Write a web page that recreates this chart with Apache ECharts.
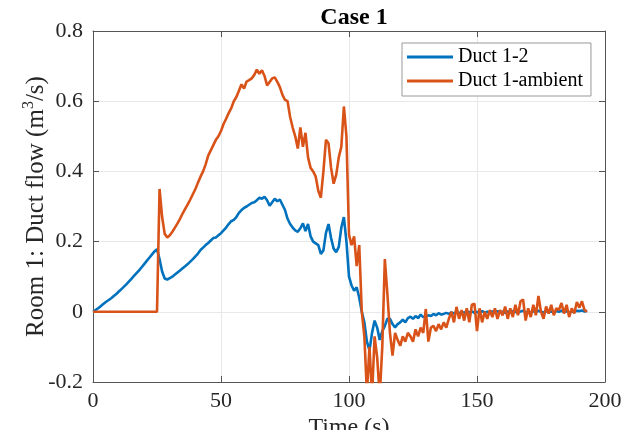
<!DOCTYPE html>
<html>
<head>
<meta charset="utf-8">
<script src="https://cdn.jsdelivr.net/npm/echarts@6/dist/echarts.min.js"></script>
<style>html,body{margin:0;padding:0;background:#fff;}#c{width:621px;height:430px;}</style>
</head>
<body>
<div id="c"></div>
<script>
const xTicks = [0, 50, 100, 150, 200];
const yTicks = [-0.2, 0, 0.2, 0.4, 0.6, 0.8];
const seriesNames = ['Duct 1-2', 'Duct 1-ambient'];
const time = [];
for (let t = 0; t <= 193; t++) time.push(t);

const duct12 = [
 0, 0.005, 0.01, 0.016, 0.022, 0.028, 0.033, 0.038, 0.044, 0.05,
 0.057, 0.064, 0.071, 0.078, 0.086, 0.094, 0.102, 0.11, 0.118, 0.127,
 0.136, 0.145, 0.154, 0.163, 0.172, 0.178, 0.15, 0.115, 0.095, 0.092,
 0.096, 0.1, 0.106, 0.112, 0.118, 0.124, 0.13, 0.136, 0.143, 0.15,
 0.158, 0.166, 0.176, 0.183, 0.19, 0.196, 0.203, 0.21, 0.212, 0.218,
 0.224, 0.232, 0.24, 0.25, 0.258, 0.262, 0.27, 0.282, 0.29, 0.296,
 0.3, 0.305, 0.31, 0.312, 0.318, 0.325, 0.322, 0.328, 0.318, 0.302,
 0.312, 0.322, 0.315, 0.32, 0.305, 0.29, 0.265, 0.25, 0.24, 0.232,
 0.228, 0.238, 0.252, 0.23, 0.25, 0.215, 0.2, 0.195, 0.19, 0.165,
 0.175, 0.225, 0.25, 0.21, 0.18, 0.17, 0.185, 0.24, 0.27, 0.2,
 0.1, 0.075, 0.06, 0.07, 0.04, 0.0, -0.03, -0.085, -0.11, -0.06,
 -0.025, -0.045, -0.08, -0.055, -0.04, -0.02, -0.02, -0.035, -0.045, -0.035,
 -0.03, -0.022, -0.03, -0.018, -0.014, -0.02, -0.012, -0.018, -0.008, -0.015,
 -0.014, -0.01, -0.012, -0.006, -0.01, -0.004, -0.008, -0.006, -0.003, -0.006,
 -0.002, -0.005, 0.001, -0.004, 0.0, -0.003, 0.002, -0.002, 0.001, -0.003,
 0.0, -0.004, 0.002, -0.002, 0.0, -0.003, 0.001, -0.002, 0.002, -0.001,
 0.0, -0.003, 0.001, -0.002, 0.002, 0.0, -0.003, 0.001, 0.003, -0.002,
 0.0, -0.002, 0.002, -0.001, 0.003, 0.0, -0.002, 0.002, -0.001, 0.001,
 -0.002, 0.002, 0.0, 0.003, -0.001, 0.002, -0.002, 0.001, 0.0, 0.003,
 0.002, 0.004, 0.001, 0.003
];

const ductAmbient = [
 0, 0, 0, 0, 0, 0, 0, 0, 0, 0,
 0, 0, 0, 0, 0, 0, 0, 0, 0, 0,
 0, 0, 0, 0, 0, 0, 0.35, 0.27, 0.222, 0.212,
 0.218, 0.228, 0.24, 0.252, 0.265, 0.28, 0.293, 0.306, 0.32, 0.335,
 0.35, 0.368, 0.385, 0.4, 0.42, 0.445, 0.46, 0.475, 0.49, 0.5,
 0.515, 0.535, 0.55, 0.566, 0.58, 0.6, 0.612, 0.63, 0.648, 0.636,
 0.656, 0.66, 0.665, 0.675, 0.69, 0.678, 0.688, 0.672, 0.645, 0.655,
 0.665, 0.668, 0.655, 0.64, 0.618, 0.604, 0.6, 0.555, 0.525, 0.5,
 0.465, 0.525, 0.47, 0.51, 0.44, 0.41, 0.4, 0.385, 0.345, 0.325,
 0.4, 0.49, 0.48, 0.41, 0.365, 0.39, 0.44, 0.47, 0.585, 0.5,
 0.22, 0.19, 0.215, 0.13, 0.19, 0.0, -0.07, -0.23, -0.1, -0.24,
 -0.07, -0.13, -0.24, -0.1, 0.15, 0.05, -0.06, -0.125, -0.06, -0.08,
 -0.097, -0.07, -0.085, -0.06, -0.07, -0.085, -0.05, -0.07, -0.045, -0.06,
 0.008, -0.085, -0.045, -0.04, -0.055, -0.035, -0.05, -0.03, -0.045, -0.02,
 0.0, -0.03, 0.014, -0.02, 0.005, -0.025, 0.01, -0.03, 0.02, 0.023,
 -0.055, 0.01, -0.03, 0.0, -0.02, 0.005, -0.015, 0.01, -0.02, 0.005,
 -0.01, 0.015, -0.02, 0.01, -0.015, 0.02, -0.01, 0.03, 0.035, -0.025,
 0.01, -0.015, 0.02, -0.01, 0.045, 0.0, -0.02, 0.015, -0.005, 0.02,
 -0.01, 0.01, 0.005, 0.025, -0.005, 0.02, -0.015, 0.01, -0.005, 0.028,
 0.012, 0.03, 0.005, 0.0
];

const FONT = "'Liberation Serif', 'Times New Roman', serif";
const AX = '#555555';
const pairs = (vals) => time.map((t, i) => [t, vals[i]]);

const chart = echarts.init(document.getElementById('c'), null, {renderer: 'canvas'});
const xMin = xTicks[0], xMax = xTicks[xTicks.length - 1];
const yMin = yTicks[0], yMax = yTicks[yTicks.length - 1];

const baseX = {
  type: 'value', min: xMin, max: xMax, interval: 50,
  axisLine: {show: true, onZero: false, lineStyle: {color: AX, width: 1}},
  axisTick: {show: true, inside: true, length: 6, lineStyle: {color: AX}},
};
const baseY = {
  type: 'value', min: yMin, max: yMax, interval: 0.2,
  axisLine: {show: true, onZero: false, lineStyle: {color: AX, width: 1}},
  axisTick: {show: true, inside: true, length: 6, lineStyle: {color: AX}},
};

chart.setOption({
  animation: false,
  backgroundColor: '#ffffff',
  title: {
    text: 'Case 1', left: 349, top: 1, textAlign: 'center',
    textStyle: {fontFamily: FONT, fontWeight: 'bold', fontSize: 24, color: '#000'}
  },
  legend: {
    data: seriesNames, orient: 'vertical', left: 402, top: 43,
    backgroundColor: '#fff', borderColor: '#999', borderWidth: 1,
    padding: [4, 8, 5, 5], itemGap: 4,
    itemWidth: 46, itemHeight: 3, icon: 'rect',
    textStyle: {fontFamily: FONT, fontSize: 20, color: '#000'}
  },
  grid: {left: 93, right: 16, top: 31, bottom: 48, containLabel: false, outerBoundsMode: 'none'},
  xAxis: [
    Object.assign({}, baseX, {
      position: 'bottom',
      name: 'Time (s)', nameLocation: 'middle', nameGap: 34, nameMoveOverlap: false,
      nameTextStyle: {fontFamily: FONT, fontSize: 24, color: '#262626'},
      axisLabel: {fontFamily: FONT, fontSize: 22, color: '#262626', margin: 8},
      splitLine: {show: true, lineStyle: {color: '#e8e8e8', width: 1}}
    }),
    Object.assign({}, baseX, {position: 'top', axisLabel: {show: false}, splitLine: {show: false}})
  ],
  yAxis: [
    Object.assign({}, baseY, {
      position: 'left',
      name: '{n|Room 1: Duct flow (m}{s|3}{n|/s)}', nameLocation: 'middle', nameGap: 44, nameMoveOverlap: false,
      nameTextStyle: {
        fontFamily: FONT, fontSize: 25, color: '#262626',
        rich: {
          n: {fontFamily: FONT, fontSize: 25, color: '#262626', lineHeight: 28, verticalAlign: 'bottom'},
          s: {fontFamily: FONT, fontSize: 16, color: '#262626', lineHeight: 28, verticalAlign: 'top', padding: [0, 0, 12, 0]}
        }
      },
      axisLabel: {fontFamily: FONT, fontSize: 22, color: '#262626', margin: 10,
        formatter: v => (Math.abs(v) < 1e-9 ? '0' : String(Math.round(v * 10) / 10))},
      splitLine: {show: true, lineStyle: {color: '#e8e8e8', width: 1}}
    }),
    Object.assign({}, baseY, {position: 'right', axisLabel: {show: false}, splitLine: {show: false}})
  ],
  series: [
    {
      name: seriesNames[0], type: 'line', xAxisIndex: 0, yAxisIndex: 0,
      data: pairs(duct12), showSymbol: false, symbol: 'none', clip: true,
      lineStyle: {color: '#0072BD', width: 2.6}, itemStyle: {color: '#0072BD'}
    },
    {
      name: seriesNames[1], type: 'line', xAxisIndex: 0, yAxisIndex: 0,
      data: pairs(ductAmbient), showSymbol: false, symbol: 'none', clip: true,
      lineStyle: {color: '#D95319', width: 2.6}, itemStyle: {color: '#D95319'}
    }
  ]
});
</script>
</body>
</html>
